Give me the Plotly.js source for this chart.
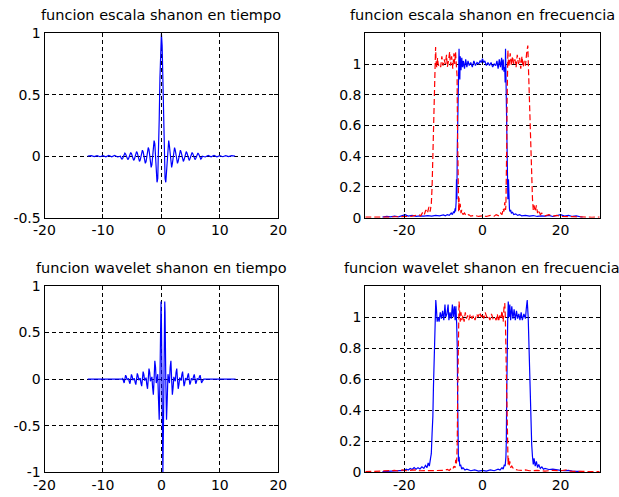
<!DOCTYPE html>
<html>
<head>
<meta charset="utf-8">
<script src="https://cdn.plot.ly/plotly-3.0.1.min.js"></script>
<style>html,body{margin:0;padding:0;background:#fff;}#chart{width:619px;height:497px;}</style>
</head>
<body>
<div id="chart"></div>
<script>
// ---------- titles ----------
const titles = [
  "funcion escala shanon en tiempo",
  "funcion escala shanon en frecuencia",
  "funcion wavelet shanon en tiempo",
  "funcion wavelet shanon en frecuencia"
];

// ---------- tick labels ----------
const timeXTicks = [-20, -10, 0, 10, 20];
const timeXTickText = ["-20", "-10", "0", "10", "20"];
const freqXTicks = [-20, 0, 20];
const freqXTickText = ["-20", "0", "20"];
const phiYTicks = [-0.5, 0, 0.5, 1];
const phiYTickText = ["-0.5", "0", "0.5", "1"];
const psiYTicks = [-1, -0.5, 0, 0.5, 1];
const psiYTickText = ["-1", "-0.5", "0", "0.5", "1"];
const freqYTicks = [0, 0.2, 0.4, 0.6, 0.8, 1];
const freqYTickText = ["0", "0.2", "0.4", "0.6", "0.8", "1"];

// ---------- scaling function in time ----------
const tPhi = [
  -12.6, -12, -11.5, -11, -10.5, -10, -9.5, -9, -8.5, -8, -7.5,
  -7, -6.875, -6.75, -6.625, -6.5, -6.375, -6.25, -6.125,
  -6, -5.875, -5.75, -5.625, -5.5, -5.375, -5.25, -5.125,
  -5, -4.875, -4.75, -4.625, -4.5, -4.375, -4.25, -4.125,
  -4, -3.875, -3.75, -3.625, -3.5, -3.375, -3.25, -3.125,
  -3, -2.875, -2.75, -2.625, -2.5, -2.375, -2.25, -2.125,
  -2, -1.875, -1.75, -1.625, -1.5, -1.375, -1.25, -1.125,
  -1, -0.875, -0.75, -0.625, -0.5, -0.375, -0.25, -0.125,
  0, 0.125, 0.25, 0.375, 0.5, 0.625, 0.75, 0.875,
  1, 1.125, 1.25, 1.375, 1.5, 1.625, 1.75, 1.875,
  2, 2.125, 2.25, 2.375, 2.5, 2.625, 2.75, 2.875,
  3, 3.125, 3.25, 3.375, 3.5, 3.625, 3.75, 3.875,
  4, 4.125, 4.25, 4.375, 4.5, 4.625, 4.75, 4.875,
  5, 5.125, 5.25, 5.375, 5.5, 5.625, 5.75, 5.875,
  6, 6.125, 6.25, 6.375, 6.5, 6.625, 6.75, 6.875,
  7, 7.5, 8, 8.5, 9, 9.5, 10, 10.5, 11, 11.5, 12, 12.6
];
const phiVals = [
  0, 0.004, -0.003, 0.005, -0.004, 0.004, -0.005, 0.006, -0.005, 0.007, -0.006,
  0, -0.0164, -0.0236, -0.017, 0, 0.0177, 0.0255, 0.0184,
  0, -0.0192, -0.0277, -0.02, 0, 0.0209, 0.0303, 0.022,
  0, -0.0231, -0.0335, -0.0243, 0, 0.0257, 0.0374, 0.0273,
  0, -0.029, -0.0424, -0.031, 0, 0.0333, 0.049, 0.036,
  0, -0.0391, -0.0579, -0.0429, 0, 0.0474, 0.0707, 0.053,
  0, -0.06, -0.0909, -0.0693, 0, 0.0818, 0.1273, 0.1,
  0, -0.1286, -0.2122, -0.1801, 0, 0.3001, 0.6366, 0.9003,
  1, 0.9003, 0.6366, 0.3001, 0, -0.1801, -0.2122, -0.1286,
  0, 0.1, 0.1273, 0.0818, 0, -0.0693, -0.0909, -0.06,
  0, 0.053, 0.0707, 0.0474, 0, -0.0429, -0.0579, -0.0391,
  0, 0.036, 0.049, 0.0333, 0, -0.031, -0.0424, -0.029,
  0, 0.0273, 0.0374, 0.0257, 0, -0.0243, -0.0335, -0.0231,
  0, 0.022, 0.0303, 0.0209, 0, -0.02, -0.0277, -0.0192,
  0, 0.0184, 0.0255, 0.0177, 0, -0.017, -0.0236, -0.0164,
  0, -0.006, 0.007, -0.005, 0.006, -0.005, 0.004, -0.004, 0.005, -0.003, 0.004, 0
];

// ---------- wavelet function in time ----------
const tPsi = [
  -12.6, -7.25,
  -7, -6.875, -6.75, -6.625, -6.5, -6.375, -6.25, -6.125,
  -6, -5.875, -5.75, -5.625, -5.5, -5.375, -5.25, -5.125,
  -5, -4.875, -4.75, -4.625, -4.5, -4.375, -4.25, -4.125,
  -4, -3.875, -3.75, -3.625, -3.5, -3.375, -3.25, -3.125,
  -3, -2.875, -2.75, -2.625, -2.5, -2.375, -2.25, -2.125,
  -2, -1.875, -1.75, -1.625, -1.5, -1.375, -1.25, -1.125,
  -1, -0.875, -0.75, -0.625, -0.5, -0.375, -0.25, -0.125, -0.07,
  0, 0.125, 0.25, 0.375, 0.5, 0.57, 0.625, 0.75, 0.875,
  1, 1.125, 1.25, 1.375, 1.5, 1.625, 1.75, 1.875,
  2, 2.125, 2.25, 2.375, 2.5, 2.625, 2.75, 2.875,
  3, 3.125, 3.25, 3.375, 3.5, 3.625, 3.75, 3.875,
  4, 4.125, 4.25, 4.375, 4.5, 4.625, 4.75, 4.875,
  5, 5.125, 5.25, 5.375, 5.5, 5.625, 5.75, 5.875,
  6, 6.125, 6.25, 6.375, 6.5, 6.625, 6.75, 6.875,
  7, 7.25, 12.7
];
const psiVals = [
  0, 0,
  0, -0.004, 0, 0.0068, -0.0236, -0.041, 0, 0.0426,
  0.0255, -0.0076, 0, 0.0079, -0.0277, -0.0483, 0, 0.0505,
  0.0303, -0.0091, 0, 0.0096, -0.0335, -0.0587, 0, 0.0621,
  0.0374, -0.0113, 0, 0.012, -0.0424, -0.0749, 0, 0.0805,
  0.049, -0.0149, 0, 0.0162, -0.0579, -0.1035, 0, 0.1144,
  0.0707, -0.0219, 0, 0.0249, -0.0909, -0.1672, 0, 0.1976,
  0.1273, -0.0414, 0, 0.0533, -0.2122, -0.4347, 0, 0.7245, 0.833,
  0.6366, -0.3729, -1, -0.3729, 0.6366, 0.833, 0.7245, 0, -0.4347,
  -0.2122, 0.0533, 0, -0.0414, 0.1273, 0.1976, 0, -0.1672,
  -0.0909, 0.0249, 0, -0.0219, 0.0707, 0.1144, 0, -0.1035,
  -0.0579, 0.0162, 0, -0.0149, 0.049, 0.0805, 0, -0.0749,
  -0.0424, 0.012, 0, -0.0113, 0.0374, 0.0621, 0, -0.0587,
  -0.0335, 0.0096, 0, -0.0091, 0.0303, 0.0505, 0, -0.0483,
  -0.0277, 0.0079, 0, -0.0076, 0.0255, 0.0426, 0, -0.041,
  -0.0236, 0, 0
];

// ---------- top right: scaling spectrum (blue) ----------
const wScaleTop = [
  -25.6, -24.5, -23.5, -22.5, -21.5, -20.5, -19.8, -19, -18, -17,
  -16, -15, -14, -13, -12, -11, -10, -9.5, -9, -8.5,
  -8, -7.7, -7.4, -7.2, -7.0, -6.9, -6.75, -6.65, -6.55, -6.45,
  -6.3, -6.2, -6.1, -6.0, -5.9, -5.8, -5.7, -5.5, -5.3, -5.1,
  -4.9, -4.6, -4.3, -4.0, -3.7, -3.4, -3.0, -2.6, -2.2, -1.8,
  -1.4, -1.0, -0.6, -0.3, 0, 0.3, 0.6, 1.0, 1.4, 1.8,
  2.2, 2.6, 3.0, 3.4, 3.7, 4.0, 4.3, 4.6, 4.9, 5.1,
  5.3, 5.5, 5.7, 5.8, 5.9, 6.0, 6.1, 6.2, 6.35, 6.5,
  6.65, 6.75, 6.9, 7.0, 7.2, 7.4, 7.7, 8.0, 8.5, 9,
  9.5, 10, 11, 12, 13, 14, 15, 16, 17, 18,
  19, 20, 21, 22, 23, 24, 25, 25.6
];
const magScaleTop = [
  0.004, 0.008, 0.005, 0.01, 0.006, 0.012, 0.02, 0.01, 0.015, 0.008,
  0.012, 0.01, 0.014, 0.01, 0.015, 0.012, 0.018, 0.012, 0.02, 0.015,
  0.03, 0.02, 0.04, 0.03, 0.06, 0.04, 0.1, 0.25, 0.12, 0.45,
  0.75, 0.88, 1.0, 1.1, 0.98, 0.9, 1.05, 0.96, 1.04, 0.98,
  1.02, 0.97, 1.03, 0.98, 1.02, 0.99, 1.01, 0.98, 1.02, 0.99,
  1.01, 1.0, 1.02, 1.01, 1.035, 1.01, 1.02, 0.99, 1.01, 0.99,
  1.01, 0.98, 1.0, 0.99, 1.02, 0.97, 1.03, 0.98, 1.04, 0.96,
  1.03, 0.95, 0.98, 0.88, 1.1, 0.95, 0.8, 0.55, 0.3, 0.12,
  0.25, 0.08, 0.06, 0.04, 0.05, 0.03, 0.035, 0.02, 0.025, 0.015,
  0.02, 0.012, 0.015, 0.01, 0.014, 0.008, 0.012, 0.01, 0.015, 0.008,
  0.012, 0.02, 0.01, 0.015, 0.008, 0.012, 0.006, 0.004
];

// ---------- top right: wavelet spectrum (red dashed) ----------
const wWaveTop = [
  -30, -28, -26, -24, -22, -20, -19, -18, -17, -16.3,
  -15.8, -15.3, -14.9, -14.5, -14.1, -13.7, -13.4, -13.1, -12.9, -12.7,
  -12.55, -12.4, -12.25, -12.1, -12.0, -11.85, -11.7, -11.5, -11.3, -11.0,
  -10.7, -10.4, -10.1, -9.8, -9.5, -9.2, -9.0, -8.7, -8.4, -8.2,
  -7.9, -7.6, -7.3, -7.1, -6.9, -6.7, -6.5, -6.4, -6.3, -6.2,
  -6.1, -6.0, -5.9, -5.7, -5.5, -5.3, -5.0, -4.6, -4.2, -3.5,
  -3, -2, -1, 0, 1, 2, 3, 3.5, 4.2, 4.6,
  5.0, 5.3, 5.5, 5.7, 5.9, 6.0, 6.1, 6.2, 6.3, 6.4,
  6.5, 6.7, 6.9, 7.1, 7.4, 7.7, 8.0, 8.3, 8.6, 8.9,
  9.2, 9.5, 9.8, 10.1, 10.4, 10.7, 11.0, 11.3, 11.6, 11.8,
  12.0, 12.2, 12.4, 12.6, 12.8, 13.0, 13.2, 13.5, 13.8, 14.1,
  14.4, 14.8, 15.2, 16, 17, 18, 19, 20, 22, 24,
  26, 28, 30
];
const magWaveTop = [
  0.004, 0.003, 0.005, 0.004, 0.006, 0.005, 0.008, 0.01, 0.015, 0.02,
  0.012, 0.035, 0.02, 0.05, 0.03, 0.07, 0.04, 0.09, 0.2, 0.42,
  0.62, 0.72, 0.95, 0.99, 1.11, 1.0, 0.98, 1.04, 0.99, 1.0,
  0.98, 1.05, 0.99, 1.03, 1.0, 1.06, 0.98, 1.02, 1.08, 0.99,
  1.05, 0.97, 1.07, 1.0, 1.08, 1.0, 0.92, 0.6, 0.3, 0.1,
  0.04, 0.13, 0.05, 0.09, 0.03, 0.05, 0.02, 0.03, 0.012, 0.02,
  0.01, 0.015, 0.008, 0.012, 0.008, 0.015, 0.01, 0.02, 0.012, 0.03,
  0.02, 0.06, 0.04, 0.1, 0.05, 0.08, 0.2, 0.45, 0.75, 0.9,
  1.09, 0.98, 1.01, 1.07, 0.99, 1.05, 1.0, 1.03, 0.98, 1.06,
  1.0, 1.04, 0.97, 1.05, 0.98, 1.02, 0.99, 1.07, 1.12, 0.95,
  0.75, 0.55, 0.38, 0.22, 0.12, 0.05, 0.08, 0.04, 0.08, 0.03,
  0.05, 0.02, 0.03, 0.012, 0.02, 0.01, 0.015, 0.008, 0.006, 0.004,
  0.005, 0.003, 0.004
];

// ---------- bottom right: wavelet spectrum (blue) ----------
const wWaveBot = [
  -25.6, -24.5, -23.5, -22.5, -21.5, -20.5, -20, -19.5, -19, -18.5,
  -18, -17.5, -17, -16.5, -16, -15.5, -15, -14.6, -14.2, -13.9,
  -13.6, -13.3, -13.1, -12.9, -12.7, -12.55, -12.4, -12.25, -12.1, -11.95,
  -11.8, -11.6, -11.4, -11.1, -10.8, -10.5, -10.2, -9.9, -9.6, -9.4,
  -9.1, -8.8, -8.6, -8.3, -8.0, -7.7, -7.5, -7.2, -7.0, -6.8,
  -6.6, -6.45, -6.35, -6.25, -6.15, -6.0, -5.8, -5.6, -5.3, -5.0,
  -4.5, -4, -3, -2, -1, 0, 1, 2, 3, 4,
  4.5, 5.0, 5.3, 5.6, 5.8, 6.0, 6.1, 6.2, 6.3, 6.45,
  6.6, 6.8, 7.0, 7.2, 7.5, 7.8, 8.1, 8.4, 8.7, 9.0,
  9.3, 9.6, 9.9, 10.2, 10.6, 11.0, 11.2, 11.45, 11.7, 11.9,
  12.1, 12.35, 12.6, 12.8, 13.0, 13.2, 13.5, 13.8, 14.1, 14.4,
  14.8, 15.2, 15.6, 16, 17, 18, 19, 20, 21, 22,
  23, 24, 25, 25.6
];
const magWaveBot = [
  0.004, 0.006, 0.005, 0.008, 0.01, 0.015, 0.012, 0.02, 0.015, 0.025,
  0.018, 0.03, 0.02, 0.03, 0.022, 0.035, 0.025, 0.045, 0.03, 0.06,
  0.04, 0.09, 0.12, 0.25, 0.36, 0.55, 0.72, 0.95, 0.98, 1.11,
  1.06, 0.97, 1.0, 0.97, 1.03, 0.99, 1.04, 0.98, 1.08, 1.0,
  1.02, 1.08, 0.98, 1.03, 0.99, 1.08, 1.0, 1.07, 0.98, 1.07,
  0.95, 0.8, 0.45, 0.15, 0.07, 0.1, 0.04, 0.05, 0.02, 0.03,
  0.015, 0.02, 0.01, 0.015, 0.008, 0.012, 0.008, 0.015, 0.01, 0.02,
  0.015, 0.03, 0.02, 0.05, 0.04, 0.1, 0.2, 0.5, 0.8, 0.97,
  1.1, 1.0, 1.08, 0.98, 1.07, 0.99, 1.05, 0.98, 1.04, 0.99,
  1.02, 0.98, 1.03, 0.98, 1.02, 0.99, 1.05, 1.11, 1.0, 0.78,
  0.57, 0.36, 0.18, 0.1, 0.05, 0.09, 0.04, 0.07, 0.03, 0.05,
  0.025, 0.035, 0.02, 0.025, 0.018, 0.02, 0.015, 0.012, 0.01, 0.012,
  0.008, 0.006, 0.005, 0.004
];

// ---------- bottom right: scaling spectrum (red dashed) ----------
const wScaleBot = [
  -30, -28, -26, -24, -22.5, -21.5, -20.5, -19.5, -18.5, -17.5,
  -16, -14, -12, -11, -10, -9, -8.5, -8, -7.6, -7.3,
  -7.0, -6.85, -6.7, -6.55, -6.45, -6.35, -6.25, -6.1, -6.0, -5.85,
  -5.7, -5.5, -5.3, -5.0, -4.7, -4.4, -4.1, -3.8, -3.5, -3.1,
  -2.7, -2.3, -1.9, -1.5, -1.1, -0.7, -0.3, 0, 0.3, 0.7,
  1.1, 1.5, 1.9, 2.3, 2.7, 3.1, 3.5, 3.8, 4.1, 4.4,
  4.7, 5.0, 5.3, 5.5, 5.7, 5.85, 6.0, 6.15, 6.3, 6.45,
  6.55, 6.65, 6.8, 7.0, 7.2, 7.5, 8, 9, 10, 11,
  12, 14, 16, 18, 20, 21.5, 22.5, 24, 26, 28,
  30
];
const magScaleBot = [
  0.004, 0.006, 0.005, 0.008, 0.012, 0.008, 0.015, 0.01, 0.012, 0.015,
  0.01, 0.012, 0.01, 0.015, 0.012, 0.018, 0.012, 0.025, 0.02, 0.04,
  0.03, 0.08, 0.05, 0.1, 0.2, 0.5, 0.8, 0.97, 1.1, 1.05,
  0.97, 1.03, 0.98, 1.01, 0.97, 1.03, 0.99, 1.01, 0.98, 1.02,
  0.99, 1.01, 0.98, 1.02, 1.0, 1.03, 1.0, 1.02, 0.99, 1.03,
  1.0, 1.01, 0.98, 1.02, 0.99, 1.0, 0.98, 1.02, 0.97, 1.01,
  0.99, 1.04, 0.97, 1.06, 1.09, 1.0, 0.8, 0.55, 0.3, 0.12,
  0.05, 0.1, 0.04, 0.07, 0.03, 0.04, 0.02, 0.015, 0.012, 0.015,
  0.01, 0.012, 0.008, 0.012, 0.01, 0.015, 0.008, 0.006, 0.005, 0.004,
  0.004
];

// ---------- styling ----------
const FONT = "DejaVu Sans, Liberation Sans, Arial, sans-serif";
const BLUE = "#0000ff";
const RED = "#ff0000";
const LW = 1.2;

const X_LEFT = [0.0719, 0.4496];
const X_RIGHT = [0.5901, 0.9688];
const Y_TOP = [0.5620, 0.9330];
const Y_BOT = [0.0497, 0.4245];

function axisStyle(extra) {
  return Object.assign({
    showgrid: true,
    gridcolor: "#000000",
    gridwidth: 1,
    griddash: "4px,3px",
    showline: true,
    linecolor: "#000000",
    linewidth: 1,
    mirror: "ticks",
    ticks: "inside",
    ticklen: 4,
    tickcolor: "#000000",
    zeroline: false,
    tickmode: "array",
    tickfont: {family: FONT, size: 14, color: "#000000"},
    fixedrange: true
  }, extra);
}

const traces = [
  {x: tPhi, y: phiVals, xaxis: "x", yaxis: "y", type: "scatter", mode: "lines",
   line: {color: BLUE, width: LW}},
  {x: wScaleTop, y: magScaleTop, xaxis: "x2", yaxis: "y2", type: "scatter", mode: "lines",
   line: {color: BLUE, width: LW}},
  {x: wWaveTop, y: magWaveTop, xaxis: "x2", yaxis: "y2", type: "scatter", mode: "lines",
   line: {color: RED, width: LW, dash: "6px,3px"}},
  {x: tPsi, y: psiVals, xaxis: "x3", yaxis: "y3", type: "scatter", mode: "lines",
   line: {color: BLUE, width: LW}},
  {x: wWaveBot, y: magWaveBot, xaxis: "x4", yaxis: "y4", type: "scatter", mode: "lines",
   line: {color: BLUE, width: LW}},
  {x: wScaleBot, y: magScaleBot, xaxis: "x4", yaxis: "y4", type: "scatter", mode: "lines",
   line: {color: RED, width: LW, dash: "6px,3px"}}
];

function titleAnn(text, dom, yPix) {
  return {
    text: text, xref: "paper", yref: "paper",
    x: (dom[0] + dom[1]) / 2, y: 1 - yPix / 497,
    xanchor: "center", yanchor: "middle", showarrow: false,
    font: {family: FONT, size: 14.5, color: "#000000"}
  };
}

const layout = {
  width: 619, height: 497, autosize: false,
  margin: {l: 0, r: 0, t: 0, b: 0, pad: 0},
  paper_bgcolor: "#ffffff", plot_bgcolor: "#ffffff",
  showlegend: false,
  xaxis: axisStyle({domain: X_LEFT, anchor: "y", range: [-20, 20], tickvals: timeXTicks, ticktext: timeXTickText}),
  yaxis: axisStyle({domain: Y_TOP, anchor: "x", range: [-0.5, 1], tickvals: phiYTicks, ticktext: phiYTickText}),
  xaxis2: axisStyle({domain: X_RIGHT, anchor: "y2", range: [-30, 30], tickvals: freqXTicks, ticktext: freqXTickText}),
  yaxis2: axisStyle({domain: Y_TOP, anchor: "x2", range: [0, 1.2], tickvals: freqYTicks, ticktext: freqYTickText}),
  xaxis3: axisStyle({domain: X_LEFT, anchor: "y3", range: [-20, 20], tickvals: timeXTicks, ticktext: timeXTickText}),
  yaxis3: axisStyle({domain: Y_BOT, anchor: "x3", range: [-1, 1], tickvals: psiYTicks, ticktext: psiYTickText}),
  xaxis4: axisStyle({domain: X_RIGHT, anchor: "y4", range: [-30, 30], tickvals: freqXTicks, ticktext: freqXTickText}),
  yaxis4: axisStyle({domain: Y_BOT, anchor: "x4", range: [0, 1.2], tickvals: freqYTicks, ticktext: freqYTickText}),
  annotations: [
    titleAnn(titles[0], X_LEFT, 14.5),
    titleAnn(titles[1], X_RIGHT, 14.5),
    titleAnn(titles[2], X_LEFT, 267.5),
    titleAnn(titles[3], X_RIGHT, 267.5)
  ]
};

Plotly.newPlot("chart", traces, layout, {staticPlot: true, displayModeBar: false});
</script>
</body>
</html>
